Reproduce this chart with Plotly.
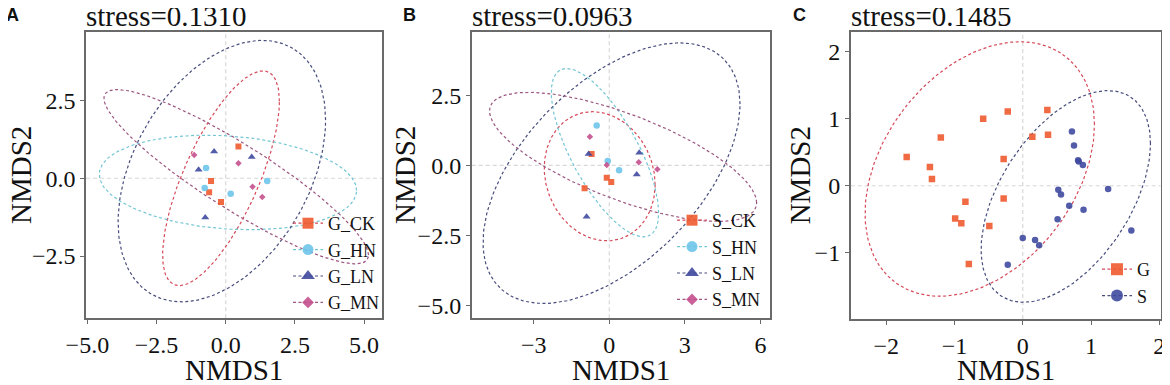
import numpy as np
import plotly.graph_objects as go

# The page body adds an 8px offset; positions below are reference pixels.
OFF = 8
W, H = 1170 - OFF, 385 - OFF

# ---------------- Data ----------------
# Panel A (G groups)
A_CK_x = [0.46, -0.53, -0.60, -0.17]
A_CK_y = [1.02, -0.09, -0.45, -0.76]
A_HN_x = [-0.71, -0.76, 0.18, 1.50]
A_HN_y = [0.33, -0.31, -0.50, -0.09]
A_LN_x = [-0.42, 0.94, -0.98, -0.74]
A_LN_y = [0.86, 0.68, 0.27, -1.26]
A_MN_x = [-1.14, 0.46, 0.97, 1.32]
A_MN_y = [0.75, 0.48, -0.27, -0.60]

# Panel B (S groups)
B_CK_x = [-0.98, -0.10, 0.08, -0.70]
B_CK_y = [-0.82, -0.44, -0.59, 0.40]
B_HN_x = [-0.50, -0.06, 0.39]
B_HN_y = [1.42, 0.15, -0.18]
B_LN_x = [-0.82, 1.19, 1.09, -0.90]
B_LN_y = [0.40, 0.45, -0.33, -1.83]
B_MN_x = [-0.77, -0.10, 1.17, 1.91]
B_MN_y = [1.02, 0.01, 0.11, -0.14]

# Panel C (G vs S)
C_G_x = [-1.70, -1.36, -1.33, -1.20, -0.84, -0.99, -0.90, -0.58,
         -0.22, 0.36, 0.14, 0.37, -0.28, -0.28, -0.49, -0.79]
C_G_y = [0.43, 0.28, 0.10, 0.72, -0.24, -0.49, -0.56, 1.00,
         1.11, 1.13, 0.73, 0.76, 0.40, -0.19, -0.60, -1.17]
C_S_x = [0.72, 0.75, 0.81, 0.82, 0.88, 0.52, 0.56, 0.68,
         0.89, 0.51, 1.25, 1.59, 0.00, 0.18, 0.24, -0.22]
C_S_y = [0.81, 0.60, 0.38, 0.36, 0.31, -0.06, -0.13, -0.30,
         -0.36, -0.50, -0.05, -0.67, -0.78, -0.81, -0.89, -1.18]

# Ellipse parameters: centre x, centre y, x half-extent, y half-extent, correlation
A_ell = {"CK": (-0.17, 0.00, 2.11, 3.45, 0.716),
         "HN": (0.08, -0.135, 4.65, 1.52, -0.17),
         "LN": (-0.14, 0.23, 3.75, 4.20, 0.39),
         "MN": (0.38, 0.05, 4.78, 2.80, -0.90)}
B_ell = {"CK": (-0.38, -0.39, 2.20, 2.30, -0.13),
         "HN": (-0.17, 0.45, 2.13, 3.00, -0.715),
         "LN": (0.09, -0.28, 5.10, 4.64, 0.53),
         "MN": (0.55, 0.30, 5.30, 2.30, -0.71)}
C_ell = {"G": (-0.63, 0.25, 1.68, 1.90, 0.35),
         "S": (0.63, -0.16, 1.24, 1.58, 0.50)}

stress = ["stress=0.1310", "stress=0.0963", "stress=0.1485"]
panel_labels = ["A", "B", "C"]

# ---------------- Styles ----------------
pt_color = {"CK": "#EE5B30", "HN": "#6EC4EA", "LN": "#3F4A9E", "MN": "#C4508E",
            "G": "#EE5B30", "S": "#3F4A9E"}
ell_color = {"CK": "#D64A5A", "HN": "#72C6D4", "LN": "#474D7C", "MN": "#9C5680",
             "G": "#D64A5A", "S": "#474D7C"}
symbol = {"CK": "square", "HN": "circle", "LN": "triangle-up", "MN": "diamond",
          "G": "square", "S": "circle"}
psize = {"CK": 6, "HN": 6.5, "LN": 7, "MN": 5, "G": 6.5, "S": 6.5}
lsize = {"CK": 11, "HN": 11, "LN": 12, "MN": 9, "G": 12, "S": 12}

SERIF = "Liberation Serif"
DASH = "3px,2.5px"

# plot areas in reference pixels (left, right, top, bottom)
areas = [(86, 382.3, 31.7, 318.3), (471.7, 770, 31.7, 318.3), (850.7, 1160.7, 31.7, 319)]
ranges = [((-5.05, 5.66), (-4.5, 4.71)), ((-5.46, 6.38), (-5.45, 4.76)), ((-2.52, 2.02), (-1.99, 2.30))]
xticks = [[-5.0, -2.5, 0.0, 2.5, 5.0], [-3, 0, 3, 6], [-2, -1, 0, 1, 2]]
yticks = [[-2.5, 0.0, 2.5], [-5.0, -2.5, 0.0, 2.5], [-1, 0, 1, 2]]
tfmt = [(".1f", ".1f"), ("d", ".1f"), ("d", "d")]
legend_pos = [(288, 205), (672, 202), (1097, 251)]
panel_label_x = [13, 409, 799]
ytitle_x = [21, 405, 800]


def px(p):
    return (p - OFF) / W


def py(p):
    return 1 - (p - OFF) / H


fig = go.Figure()


def ellipse(p):
    cx, cy, sx, sy, r = p
    t = np.linspace(0, 2 * np.pi, 200)
    return cx + sx * np.cos(t), cy + sy * (r * np.cos(t) + np.sqrt(1 - r * r) * np.sin(t))


panels = [
    ("x", "y", "legend", [("G_CK", "CK", A_CK_x, A_CK_y), ("G_HN", "HN", A_HN_x, A_HN_y),
                          ("G_LN", "LN", A_LN_x, A_LN_y), ("G_MN", "MN", A_MN_x, A_MN_y)], A_ell),
    ("x2", "y2", "legend2", [("S_CK", "CK", B_CK_x, B_CK_y), ("S_HN", "HN", B_HN_x, B_HN_y),
                             ("S_LN", "LN", B_LN_x, B_LN_y), ("S_MN", "MN", B_MN_x, B_MN_y)], B_ell),
    ("x3", "y3", "legend3", [("G", "G", C_G_x, C_G_y), ("S", "S", C_S_x, C_S_y)], C_ell),
]

for i, (xa, ya, lg, groups, ells) in enumerate(panels):
    for name, key, gx, gy in groups:
        ex, ey = ellipse(ells[key])
        fig.add_trace(go.Scatter(x=ex, y=ey, mode="lines", xaxis=xa, yaxis=ya,
                                 line=dict(color=ell_color[key], width=1.2, dash=DASH),
                                 showlegend=False, hoverinfo="skip"))
    for name, key, gx, gy in groups:
        fig.add_trace(go.Scatter(x=gx, y=gy, mode="markers", xaxis=xa, yaxis=ya,
                                 marker=dict(color=pt_color[key], symbol=symbol[key], size=psize[key],
                                             opacity=0.9, line=dict(width=0)),
                                 showlegend=False, name=name))
    for name, key, gx, gy in groups:
        fig.add_trace(go.Scatter(x=[None], y=[None], mode="lines+markers", xaxis=xa, yaxis=ya,
                                 name=name, legend=lg,
                                 line=dict(color=ell_color[key], width=1.2, dash=DASH),
                                 marker=dict(color=pt_color[key], symbol=symbol[key], size=lsize[key],
                                             opacity=0.9, line=dict(width=0))))

layout = dict(width=W, height=H, margin=dict(l=0, r=0, t=0, b=0, pad=0, autoexpand=False),
              paper_bgcolor="white", plot_bgcolor="white", showlegend=True)

annotations = []
shapes = []
for i in range(3):
    l, r, t, b = areas[i]
    suf = "" if i == 0 else str(i + 1)
    (x0, x1), (y0, y1) = ranges[i]
    axcommon = dict(showline=True, mirror=True, linecolor="#6a6a6a", linewidth=1.5,
                    ticks="outside", ticklen=4, tickcolor="#6a6a6a", tickwidth=1,
                    showgrid=False, zeroline=False, automargin=False,
                    tickfont=dict(family=SERIF, size=24, color="#111111"))
    layout["xaxis" + suf] = dict(domain=[px(l), px(r)], range=[x0, x1], tickvals=xticks[i],
                                 tickformat=tfmt[i][0], anchor="y" + suf, **axcommon)
    layout["yaxis" + suf] = dict(domain=[py(b), py(t)], range=[y0, y1], tickvals=yticks[i],
                                 tickformat=tfmt[i][1], anchor="x" + suf, **axcommon)
    lx, ly = legend_pos[i]
    layout["legend" if i == 0 else "legend" + str(i + 1)] = dict(
        x=px(lx), y=py(ly), xanchor="left", yanchor="top", bgcolor="rgba(0,0,0,0)",
        font=dict(family=SERIF, size=18, color="#111111"), tracegroupgap=0)
    # dashed zero reference lines
    shapes.append(dict(type="line", xref="x" + suf, yref="y" + suf + " domain", x0=0, x1=0, y0=0, y1=1,
                       line=dict(color="#d8d8d8", width=1.2, dash="4px,3px"), layer="below"))
    shapes.append(dict(type="line", xref="x" + suf + " domain", yref="y" + suf, x0=0, x1=1, y0=0, y1=0,
                       line=dict(color="#d8d8d8", width=1.2, dash="4px,3px"), layer="below"))
    # stress title
    annotations.append(dict(text=stress[i], xref="paper", yref="paper", x=px(l - 2), y=py(16),
                            xanchor="left", yanchor="middle", showarrow=False,
                            font=dict(family=SERIF, size=29, color="#111111")))
    # panel label
    annotations.append(dict(text="<b>" + panel_labels[i] + "</b>", xref="paper", yref="paper",
                            x=px(panel_label_x[i]), y=py(15), xanchor="center", yanchor="middle",
                            showarrow=False, font=dict(family="Liberation Sans", size=18, color="#111111")))
    # axis titles
    annotations.append(dict(text="NMDS1", xref="paper", yref="paper", x=px((l + r) / 2), y=py(370),
                            xanchor="center", yanchor="middle", showarrow=False,
                            font=dict(family=SERIF, size=29, color="#111111")))
    annotations.append(dict(text="NMDS2", xref="paper", yref="paper", x=px(ytitle_x[i]), y=py((t + b) / 2),
                            xanchor="center", yanchor="middle", textangle=-90, showarrow=False,
                            font=dict(family=SERIF, size=29, color="#111111")))

layout["annotations"] = annotations
layout["shapes"] = shapes
fig.update_layout(**layout)
fig.write_html("out.html")
